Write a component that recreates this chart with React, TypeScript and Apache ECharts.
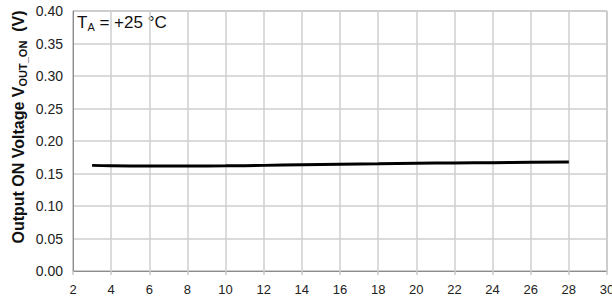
import React, { useEffect, useRef } from "react";
import * as echarts from "echarts";

const supplyVoltage = [3, 4, 6, 8, 10, 12, 14, 16, 18, 20, 22, 24, 26, 28];
const outputOnVoltage = [0.1625, 0.1618, 0.1615, 0.1615, 0.1618, 0.1625, 0.1635, 0.1643, 0.165, 0.1657, 0.1662, 0.1667, 0.1672, 0.1677];
const xTicks = { min: 2, max: 30, interval: 2 };
const yTicks = { min: 0, max: 0.4, interval: 0.05 };

const FONT = "'Liberation Sans', Arial, sans-serif";

export default function App() {
  const ref = useRef<HTMLDivElement>(null);
  useEffect(() => {
    if (!ref.current) return;
    const chart = echarts.init(ref.current, undefined, { renderer: "svg" });
    chart.setOption({
      animation: false,
      backgroundColor: "#ffffff",
      grid: {
        left: 73, right: 5, top: 11, bottom: 34,
        show: true, borderColor: "#8c8c8c", borderWidth: 1,
        containLabel: false, outerBoundsMode: "none",
      },
      xAxis: {
        type: "value",
        min: xTicks.min,
        max: xTicks.max,
        interval: xTicks.interval,
        axisLine: { show: true, lineStyle: { color: "#8c8c8c", width: 1 } },
        axisTick: { show: true, inside: false, length: 4, lineStyle: { color: "#c8c8c8", width: 1.5 } },
        axisLabel: { color: "#222", fontSize: 13, fontFamily: FONT, margin: 12, hideOverlap: false },
        splitLine: { show: true, lineStyle: { color: "#cfcfcf", width: 1.5 } },
      },
      yAxis: {
        type: "value",
        min: yTicks.min,
        max: yTicks.max,
        interval: yTicks.interval,
        axisLine: { show: true, lineStyle: { color: "#8c8c8c", width: 1 } },
        axisTick: { show: false },
        axisLabel: {
          color: "#222",
          fontSize: 14,
          fontFamily: FONT,
          margin: 10,
          formatter: (v: number) => v.toFixed(2),
        },
        splitLine: { show: true, lineStyle: { color: "#cfcfcf", width: 1.5 } },
      },
      graphic: [
        {
          type: "text",
          x: 18,
          y: 127,
          rotation: Math.PI / 2,
          style: {
            text: "{a|Output ON Voltage V}{b|OUT_ON}{a|  (V)}",
            align: "center",
            verticalAlign: "middle",
            rich: {
              a: { fontSize: 16, fontWeight: "bold", fontFamily: FONT, fill: "#111", lineHeight: 20, verticalAlign: "middle" },
              b: { fontSize: 11, fontWeight: "bold", fontFamily: FONT, fill: "#111", lineHeight: 20, verticalAlign: "bottom", padding: [7, 0, 0, 0] },
            },
          },
        },
        {
          type: "text",
          x: 77,
          y: 12,
          style: {
            text: "{a|T}{b|A}{a| = +25 °C}",
            rich: {
              a: { fontSize: 17, fontFamily: FONT, fill: "#111", lineHeight: 20, verticalAlign: "middle" },
              b: { fontSize: 11, fontFamily: FONT, fill: "#111", lineHeight: 20, verticalAlign: "bottom", padding: [7, 0, 0, 0] },
            },
          },
        },
      ],
      series: [
        {
          type: "line",
          data: supplyVoltage.map((x, i) => [x, outputOnVoltage[i]]),
          showSymbol: false,
          smooth: true,
          lineStyle: { color: "#000", width: 3 },
        },
      ],
    });
    return () => chart.dispose();
  }, []);
  return <div ref={ref} style={{ width: 612, height: 305, position: "absolute", left: 0, top: 0 }} />;
}
